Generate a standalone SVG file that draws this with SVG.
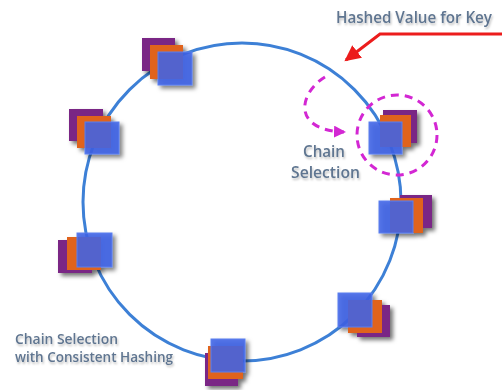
<svg xmlns="http://www.w3.org/2000/svg" width="502" height="390" viewBox="0 0 502 390">
<defs>
<style>
.ring{fill:none;stroke:#3d80d6;stroke-width:3}
.p{fill:#7a2585}
.o{fill:#e0631c}
.b{fill:#3f63e6;fill-opacity:0.88;stroke:#5a80f0;stroke-width:1}
.lbl{font-family:"Open Sans","Liberation Sans",sans-serif;font-weight:600;fill:#5f7590}
.dash{fill:none;stroke:#d327d3;stroke-width:3;stroke-dasharray:8 6}
.red{fill:none;stroke:#ec1c1c;stroke-width:3}
</style>
<filter id="sh" x="-40%" y="-40%" width="180%" height="180%">
<feDropShadow dx="3" dy="3" stdDeviation="2" flood-color="#000" flood-opacity="0.55"/>
</filter>
<filter id="tsh" x="-5%" y="-30%" width="110%" height="170%">
<feDropShadow dx="1" dy="2" stdDeviation="1.2" flood-color="#000" flood-opacity="0.25"/>
</filter>
<marker id="ah-red" markerUnits="userSpaceOnUse" markerWidth="18" markerHeight="18" refX="14" refY="8" orient="auto">
<path d="M0,0 L16,8 L0,16 Z" fill="#ec1c1c"/>
</marker>
<marker id="ah-mag" markerUnits="userSpaceOnUse" markerWidth="14" markerHeight="14" refX="10" refY="6" orient="auto">
<path d="M0,0 L12,6 L0,12 Z" fill="#d327d3"/>
</marker>
</defs>
<rect width="502" height="390" fill="#ffffff"/>

<g id="connectors">
<circle class="ring" cx="242" cy="202" r="159"/>
<polyline class="red" points="502,34 380,34 346,60" marker-end="url(#ah-red)"/>
<path class="dash" d="M325,77 C300,92 290,130 344,132" marker-end="url(#ah-mag)"/>
<circle class="dash" cx="397" cy="135" r="40"/>
</g>

<g id="node1" filter="url(#sh)">
<rect class="p" x="142" y="38" width="33" height="33"/>
<rect class="o" x="150" y="45" width="33" height="34"/>
<rect class="b" x="158" y="52" width="34" height="33"/>
</g>
<g id="node2" filter="url(#sh)">
<rect class="p" x="69" y="109" width="34" height="32"/>
<rect class="o" x="77" y="116" width="34" height="32"/>
<rect class="b" x="85" y="122" width="34" height="32"/>
</g>
<g id="node3" filter="url(#sh)">
<rect class="p" x="58" y="240" width="34" height="33"/>
<rect class="o" x="67" y="237" width="34" height="33"/>
<rect class="b" x="77" y="233" width="35" height="34"/>
</g>
<g id="node4" filter="url(#sh)">
<rect class="p" x="205" y="353" width="33" height="33"/>
<rect class="o" x="208" y="346" width="35" height="33"/>
<rect class="b" x="211" y="339" width="34" height="33"/>
</g>
<g id="node5" filter="url(#sh)">
<rect class="p" x="357" y="305" width="33" height="32"/>
<rect class="o" x="348" y="300" width="34" height="33"/>
<rect class="b" x="338" y="293" width="34" height="34"/>
</g>
<g id="node6" filter="url(#sh)">
<rect class="p" x="400" y="195" width="32" height="33"/>
<rect class="o" x="390" y="198" width="33" height="35"/>
<rect class="b" x="379" y="201" width="34" height="32"/>
</g>
<g id="node7" filter="url(#sh)">
<rect class="p" x="383" y="110" width="34" height="33"/>
<rect class="o" x="380" y="115" width="31" height="32"/>
<rect class="b" x="369" y="122" width="33" height="32"/>
</g>

<g id="labels" filter="url(#tsh)">
<text class="lbl" x="336" y="23" font-size="15.5" textLength="156" lengthAdjust="spacingAndGlyphs">Hashed Value for Key</text>
<text class="lbl" x="303" y="157" font-size="17" textLength="42" lengthAdjust="spacingAndGlyphs">Chain</text>
<text class="lbl" x="291" y="178" font-size="17" textLength="69" lengthAdjust="spacingAndGlyphs">Selection</text>
<text class="lbl" x="15" y="344" font-size="15" textLength="103" lengthAdjust="spacingAndGlyphs">Chain Selection</text>
<text class="lbl" x="15" y="362" font-size="15" textLength="158" lengthAdjust="spacingAndGlyphs">with Consistent Hashing</text>
</g>
</svg>
